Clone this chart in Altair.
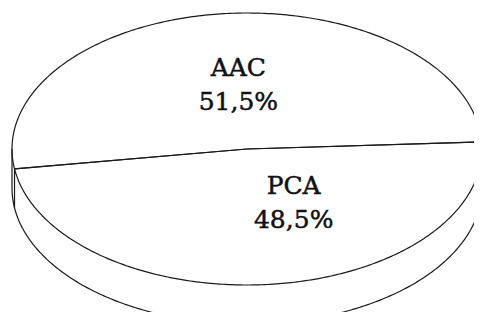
import altair as alt
import pandas as pd

# ---- data ----
categories = ["AAC", "PCA"]
shares = [51.5, 48.5]

df = pd.DataFrame({"category": categories, "share": shares})

# ---- geometry / style (not data) ----
W, H = 466, 304          # svg size (page margin 8px); pie is clipped at the window edges
CX, CY = 239, 141        # centre of top face (chart px)
A, B = 235, 136          # ellipse semi-axes
D = 39                   # pie depth
START = 3                # start angle (deg), counter-clockwise
N = 240                  # samples per arc
R_LABEL = 0.5
STROKE = "#1a1a1a"
SW = 1.2
FONT = "DejaVu Serif"
FS = 25

xs = alt.Scale(domain=[0, W], range=[0, W], nice=False, zero=False)
ys = alt.Scale(domain=[0, H], range=[0, H], nice=False, zero=False)

slices = (
    alt.Chart(df)
    .transform_window(idx="row_number()")
    .transform_joinaggregate(total="sum(share)")
    .transform_window(cum="sum(share)", frame=[None, 0], sort=[alt.SortField("idx")])
    .transform_calculate(
        t0=f"{START} + 360 * (datum.cum - datum.share) / datum.total",
        t1=f"{START} + 360 * datum.cum / datum.total",
    )
)

# top face: each slice outline centre -> arc -> centre
top = (
    slices.transform_calculate(seq=f"sequence(-1, {N + 2})")
    .transform_flatten(["seq"], as_=["k"])
    .transform_calculate(
        rad=f"(datum.t0 + (datum.t1 - datum.t0) * clamp(datum.k, 0, {N}) / {N}) * PI / 180",
        on=f"datum.k >= 0 && datum.k <= {N}",
    )
    .transform_calculate(
        x=f"datum.on ? {CX} + {A} * cos(datum.rad) : {CX}",
        y=f"datum.on ? {CY} - {B} * sin(datum.rad) : {CY}",
    )
    .mark_line(color=STROKE, strokeWidth=SW, strokeJoin="round", clip=True)
    .encode(
        x=alt.X("x:Q", scale=xs, axis=None),
        y=alt.Y("y:Q", scale=ys, axis=None),
        detail="category:N",
        order="k:Q",
    )
)

# side of the pie: left edge, front lower arc, right edge
side = (
    alt.Chart(df)
    .transform_aggregate(total="sum(share)")
    .transform_calculate(seq=f"sequence(-1, {N + 2})")
    .transform_flatten(["seq"], as_=["k"])
    .transform_calculate(
        rad=f"(180 + 180 * clamp(datum.k, 0, {N}) / {N}) * PI / 180",
        on=f"datum.k >= 0 && datum.k <= {N}",
    )
    .transform_calculate(
        x=f"{CX} + {A} * cos(datum.rad)",
        y=f"datum.on ? {CY} + {D} - {B} * sin(datum.rad) : {CY}",
    )
    .mark_line(color=STROKE, strokeWidth=SW, strokeJoin="round", clip=True)
    .encode(
        x=alt.X("x:Q", scale=xs, axis=None),
        y=alt.Y("y:Q", scale=ys, axis=None),
        order="k:Q",
    )
)

# vertical side edges at slice boundaries that face the viewer
edges = (
    slices.transform_calculate(rad="datum.t0 * PI / 180")
    .transform_filter("sin(datum.rad) < 0")
    .transform_calculate(
        x=f"{CX} + {A} * cos(datum.rad)",
        y=f"{CY} - {B} * sin(datum.rad)",
        y2=f"{CY} - {B} * sin(datum.rad) + {D}",
    )
    .mark_rule(color=STROKE, strokeWidth=SW)
    .encode(
        x=alt.X("x:Q", scale=xs, axis=None),
        y=alt.Y("y:Q", scale=ys, axis=None),
        y2="y2:Q",
    )
)

labels_base = slices.transform_calculate(
    rad="(datum.t0 + datum.t1) / 2 * PI / 180",
).transform_calculate(
    lx=f"{CX} + {A} * {R_LABEL} * cos(datum.rad)",
    ly=f"{CY} - {B} * {R_LABEL} * sin(datum.rad)",
    label="[datum.category, replace(format(datum.share, '.1f'), '.', ',') + '%']",
)

def label_layer(cat, dx, dy):
    return (
        labels_base.transform_filter(alt.datum.category == cat)
        .mark_text(
            font=FONT, fontSize=FS, color="#111111", align="center",
            baseline="alphabetic", lineHeight=34, dx=dx, dy=dy,
            stroke="#111111", strokeWidth=0.5,
        )
        .encode(
            x=alt.X("lx:Q", scale=xs, axis=None),
            y=alt.Y("ly:Q", scale=ys, axis=None),
            text="label:N",
        )
    )

chart = (
    alt.layer(side, edges, top, label_layer("AAC", 3, -5), label_layer("PCA", 35, -23))
    .properties(width=W, height=H, padding=0, autosize=alt.AutoSizeParams(type="none"),
                background="white")
    .configure_view(stroke=None)
)

chart.save("out.html", embed_options={"renderer": "svg", "actions": False})
